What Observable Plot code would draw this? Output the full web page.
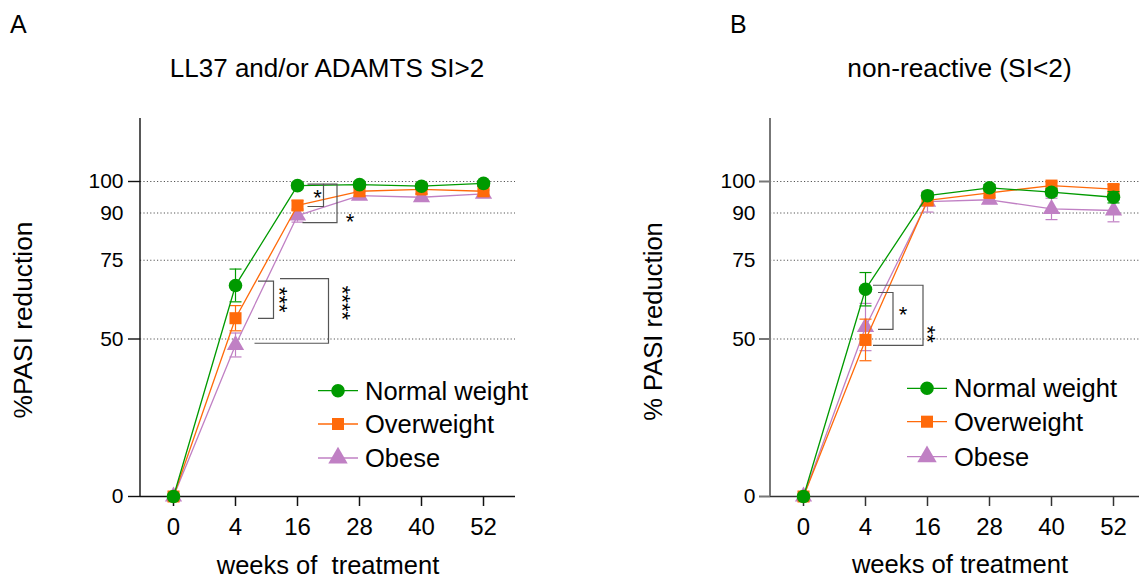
<!DOCTYPE html>
<html><head><meta charset="utf-8">
<script src="https://cdn.jsdelivr.net/npm/d3@7"></script>
<script src="https://cdn.jsdelivr.net/npm/@observablehq/plot@0.6"></script>
<style>
body{margin:0;background:#fff;}
#root{position:relative;width:1139px;height:581px;overflow:hidden;font-family:"Liberation Sans",Arial,sans-serif;}
#root > *{position:absolute;top:0;}
</style></head><body><div id="root"></div>
<script>
// ---------- data ----------
const weeks = ["0", "4", "16", "28", "40", "52"];
const seriesNames = ["Normal weight", "Overweight", "Obese"];
const yTickValues = [0, 50, 75, 90, 100];
const yTickMarks = [0, 50, 100];
const gridValues = [50, 75, 90, 100];

// Panel A: LL37 and/or ADAMTS SI>2
const normalA    = [0, 67.0, 98.7, 99.0, 98.5, 99.4];
const normalAErr = [0, 5.2, 1.0, 1.0, 1.0, 0.8];
const overA      = [0, 56.6, 92.4, 96.9, 97.5, 96.9];
const overAErr   = [0, 4.0, 1.5, 1.5, 1.5, 1.5];
const obeseA     = [0, 48.1, 89.2, 95.5, 95.0, 96.1];
const obeseAErr  = [0, 3.8, 2.1, 1.2, 1.2, 1.2];

// Panel B: non-reactive (SI<2)
const normalB    = [0, 65.8, 95.5, 98.0, 96.6, 95.0];
const normalBErr = [0, 5.3, 1.0, 1.0, 1.2, 1.8];
const overB      = [0, 49.7, 94.0, 96.4, 98.7, 97.6];
const overBErr   = [0, 6.6, 1.5, 1.5, 1.2, 1.4];
const obeseB     = [0, 53.8, 93.6, 94.2, 91.3, 90.8];
const obeseBErr  = [0, 7.5, 3.3, 1.2, 3.4, 3.6];

// significance brackets: week, upper end, lower end, label
const bracketsA = [
  {id: "a1", week: "16", top: 99.0, bottom: 91.9, label: "*"},
  {id: "a2", week: "16", top: 99.0, bottom: 86.8, label: "*"},
  {id: "a3", week: "4",  top: 68.2, bottom: 56.4, label: "***"},
  {id: "a4", week: "4",  top: 69.0, bottom: 48.5, label: "****"}
];
const bracketsB = [
  {id: "b1", week: "4", top: 64.6, bottom: 52.9, label: "*"},
  {id: "b2", week: "4", top: 66.9, bottom: 47.8, label: "**"}
];

// ---------- styles ----------
const colors = {"Normal weight": "#009a00", "Overweight": "#ff6a0a", "Obese": "#c080c4"};
const symbols = {"Normal weight": "circle", "Overweight": "square", "Obese": "triangle"};
const radii = {"Normal weight": 6.8, "Overweight": 6.8, "Obese": 6.4};
const bracketLayout = {
  a1: {topLeft: 10.5, bottomLeft: 10.5, vert: 26.5, labelDx: 20.5, labelDy: -2, rotate: false},
  a2: {topLeft: 26.5, bottomLeft: 5.5, vert: 40, labelDx: 53, labelDy: 14, rotate: false},
  a3: {topLeft: 23, bottomLeft: 23, vert: 38.5, labelDx: 49.5, labelDy: 0, rotate: true},
  a4: {topLeft: 45, bottomLeft: 19.5, vert: 93.5, labelDx: 112.5, labelDy: -8, rotate: true},
  b1: {topLeft: 13, bottomLeft: 13, vert: 28, labelDx: 38, labelDy: -1, rotate: false},
  b2: {topLeft: 8, bottomLeft: 8, vert: 58, labelDx: 67.5, labelDy: 19, rotate: true}
};
const FONT = "'Liberation Sans', Arial, sans-serif";
// horizontal cap symbol for error bars (half-width = r)
const capSymbol = {draw(context, size) { const w = Math.sqrt(size / Math.PI); context.moveTo(-w, 0); context.lineTo(w, 0); }};

function rows(vals, errs, name) {
  return weeks.map((w, i) => ({week: w, value: vals[i], err: errs[i], series: name}));
}

function seriesMarks(data) {
  const name = data[0].series, c = colors[name];
  const e = data.filter(d => d.err > 0);
  return [
    Plot.ruleX(e, {x: "week", y1: d => d.value - d.err, y2: d => d.value + d.err, stroke: c, strokeWidth: 1.2}),
    Plot.dot(e, {x: "week", y: d => d.value + d.err, symbol: capSymbol, r: 6, fill: "none", stroke: c, strokeWidth: 1.2}),
    Plot.dot(e, {x: "week", y: d => d.value - d.err, symbol: capSymbol, r: 6, fill: "none", stroke: c, strokeWidth: 1.2}),
    Plot.line(data, {x: "week", y: "value", stroke: c, strokeWidth: 1.3}),
    Plot.dot(data, {x: "week", y: "value", symbol: symbols[name], r: radii[name], fill: c, stroke: null})
  ];
}

function bracketMark(brackets, color) {
  return (index, scales) => {
    const {x, y} = scales;
    const g = d3.create("svg:g");
    for (const b of brackets) {
      const L = bracketLayout[b.id];
      const x0 = x(b.week), yt = y(b.top), yb = y(b.bottom);
      g.append("path")
        .attr("d", `M${x0 + L.topLeft},${yt}H${x0 + L.vert}V${yb}H${x0 + L.bottomLeft}`)
        .attr("fill", "none").attr("stroke", color).attr("stroke-width", 1.2);
      const cx = x0 + L.labelDx, cy = (yt + yb) / 2 + L.labelDy;
      g.append("text")
        .attr("transform", `translate(${cx},${cy})` + (L.rotate ? " rotate(90)" : ""))
        .attr("text-anchor", "middle").attr("dy", "0.55em")
        .attr("font-size", 22).attr("font-family", FONT).attr("fill", "#000")
        .text(b.label);
    }
    return g.node();
  };
}

function yAxisLine(color, w) {
  return (index, scales, values, dims) => {
    const g = d3.create("svg:g");
    g.append("line")
      .attr("x1", dims.marginLeft).attr("x2", dims.marginLeft)
      .attr("y1", dims.marginTop).attr("y2", dims.height - dims.marginBottom)
      .attr("stroke", color).attr("stroke-width", w);
    return g.node();
  };
}

function panel({series, brackets, width, xRange, marginRight, yAxisColor, yAxisWidth, xAxisColor, yLabelPad, yTickSize}) {
  return Plot.plot({
    width, height: 581,
    marginLeft: 140, marginRight, marginTop: 118, marginBottom: 85,
    style: {fontFamily: FONT, background: "transparent", overflow: "visible"},
    x: {type: "point", domain: weeks, padding: 0.5, ...(xRange ? {range: xRange} : {})},
    y: {domain: [0, 120]},
    marks: [
      Plot.ruleY(gridValues, {stroke: "#555", strokeWidth: 1, strokeDasharray: "1.2,2.2"}),
      Plot.ruleY([0], {stroke: xAxisColor, strokeWidth: 1.5}),
      yAxisLine(yAxisColor, yAxisWidth),
      Plot.axisY({ticks: yTickMarks, tickSize: yTickSize, stroke: yAxisColor, strokeWidth: yAxisWidth, tickFormat: () => "", label: null}),
      Plot.axisY({ticks: yTickValues, tickSize: 0, tickPadding: yLabelPad, fontSize: 21, fill: "#000", tickFormat: d3.format("d"), label: null}),
      Plot.axisX({tickSize: 10, tickPadding: 11, fontSize: 24, stroke: xAxisColor, strokeWidth: 1.5, fill: "#000", label: null}),
      ...series.flatMap(seriesMarks),
      bracketMark(brackets, "#555")
    ]
  });
}

const root = document.getElementById("root");

const plotA = panel({
  series: [rows(obeseA, obeseAErr, "Obese"), rows(overA, overAErr, "Overweight"), rows(normalA, normalAErr, "Normal weight")],
  brackets: bracketsA, width: 570, marginRight: 55,
  yAxisColor: "#111", yAxisWidth: 1.4, xAxisColor: "#111", yLabelPad: 17, yTickSize: 12
});
plotA.style.left = "0px";
root.appendChild(plotA);

const plotB = panel({
  series: [rows(obeseB, obeseBErr, "Obese"), rows(overB, overBErr, "Overweight"), rows(normalB, normalBErr, "Normal weight")],
  brackets: bracketsB, width: 509, marginRight: 0, xRange: [140, 516],
  yAxisColor: "#777", yAxisWidth: 2, xAxisColor: "#333", yLabelPad: 15, yTickSize: 11
});
plotB.style.left = "630px";
root.appendChild(plotB);

// ---------- text & legends overlay ----------
const ov = d3.select(root).append("svg")
  .attr("width", 1139).attr("height", 581)
  .style("left", "0px").style("pointer-events", "none")
  .attr("font-family", FONT).attr("fill", "#000");

function txt(x, y, s, size, anchor = "start", rot = 0, dy = 0) {
  ov.append("text").attr("transform", `translate(${x},${y})` + (rot ? ` rotate(${rot})` : ""))
    .attr("text-anchor", anchor).attr("font-size", size).attr("dy", dy).text(s);
}
txt(10, 33, "A", 25);
txt(730, 33, "B", 25);
txt(327, 77, "LL37 and/or ADAMTS SI>2", 26, "middle");
txt(959.5, 77, "non-reactive (SI<2)", 26.3, "middle");
txt(23, 320, "%PASI reduction", 26.3, "middle", -90, "0.36em");
txt(652.5, 321.5, "% PASI reduction", 25.6, "middle", -90, "0.36em");
txt(328, 574, "weeks of\u00a0 treatment", 25.5, "middle");
txt(960, 573, "weeks of treatment", 25.6, "middle");

function legend(x0, rowsY) {
  seriesNames.forEach((name, i) => {
    const y = rowsY[i], c = colors[name];
    ov.append("line").attr("x1", x0).attr("x2", x0 + 40).attr("y1", y).attr("y2", y)
      .attr("stroke", c).attr("stroke-width", 1.3);
    const sym = {circle: d3.symbolCircle, square: d3.symbolSquare, triangle: d3.symbolTriangle}[symbols[name]];
    const r = name === "Obese" ? 7.2 : 6.8;
    ov.append("path").attr("d", d3.symbol(sym, Math.PI * r * r)()).attr("transform", `translate(${x0 + 20},${y})`)
      .attr("fill", c);
    ov.append("text").attr("x", x0 + 47).attr("y", y).attr("dy", "0.36em").attr("font-size", 25.5).text(name);
  });
}
legend(318, [390.7, 424, 458]);
legend(907, [388.3, 421.7, 456.7]);
</script></body></html>
